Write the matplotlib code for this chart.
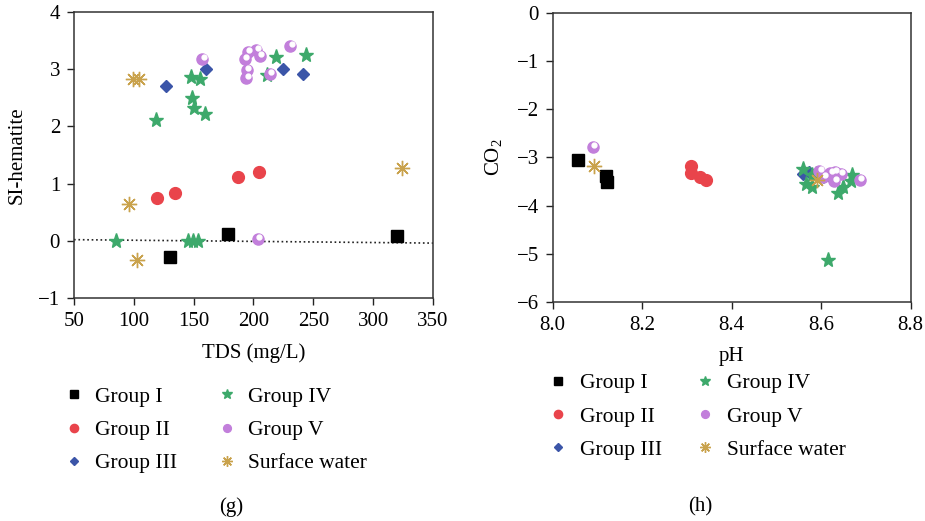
import numpy as np
import matplotlib
matplotlib.use("Agg")
import matplotlib.pyplot as plt
import matplotlib.transforms as mtransforms

plt.rcParams['font.family'] = ['Liberation Serif', 'DejaVu Serif']
plt.rcParams['mathtext.fontset'] = 'custom'
plt.rcParams['mathtext.rm'] = 'Liberation Serif'

# ---- panel (g): TDS vs SI-hematite
g1_tds = [130, 179, 320]
g1_si = [-0.29, 0.12, 0.08]
g2_tds = [119.5, 134.5, 187, 204.5]
g2_si = [0.75, 0.83, 1.12, 1.20]
g3_tds = [126.5, 160.4, 224.3, 241.3]
g3_si = [2.70, 3.00, 3.00, 2.91]
g4_tds = [118.6, 147.5, 155, 148.3, 150.6, 159.6, 219, 243.8, 211, 85, 145.5, 149.7, 153.5]
g4_si = [2.11, 2.86, 2.82, 2.49, 2.33, 2.21, 3.22, 3.25, 2.90, 0.0, -0.01, -0.01, -0.01]
g5_tds = [157.4, 195.2, 202.3, 193, 205.4, 230.8, 194.3, 194, 213.6, 203.4]
g5_si = [3.17, 3.30, 3.33, 3.17, 3.23, 3.40, 2.98, 2.85, 2.92, 0.03]
sw_tds = [99, 104, 96, 102.8, 324]
sw_si = [2.83, 2.82, 0.65, -0.34, 1.28]
ref_tds = [50, 350]
ref_si = [0.02, -0.04]

# ---- panel (h): pH vs CO2
h1_ph = [8.057, 8.119, 8.121]
h1_co2 = [-3.06, -3.38, -3.52]
h2_ph = [8.308, 8.308, 8.330, 8.342]
h2_co2 = [-3.17, -3.32, -3.40, -3.47]
h3_ph = [8.559, 8.573]
h3_co2 = [-3.35, -3.30]
h4_ph = [8.560, 8.565, 8.579, 8.588, 8.612, 8.649, 8.637, 8.668, 8.667, 8.579, 8.616]
h4_co2 = [-3.23, -3.56, -3.61, -3.35, -3.40, -3.61, -3.74, -3.37, -3.49, -3.37, -5.14]
h5_ph = [8.089, 8.596, 8.620, 8.631, 8.644, 8.629, 8.687, 8.605]
h5_co2 = [-2.79, -3.28, -3.33, -3.31, -3.35, -3.49, -3.47, -3.40]
hsw_ph = [8.092, 8.591]
hsw_co2 = [-3.17, -3.47]

labels = ['Group I', 'Group II', 'Group III', 'Group IV', 'Group V', 'Surface water']
colors = ['#000000', '#e9444b', '#3b55a8', '#3da96b', '#c27fdb', '#c9a24c']
asterisk = (8, 2, 0)

fig = plt.figure(figsize=(9.25, 5.21), dpi=100)
ax1 = fig.add_axes([0.080, 0.428, 0.388, 0.549])
ax2 = fig.add_axes([0.5975, 0.421, 0.387, 0.5535])


def draw(ax, xs, ys):
	ax.plot(xs[0], ys[0], 's', color=colors[0], ms=8, ls='none', label=labels[0])
	ax.plot(xs[1], ys[1], 'o', color=colors[1], ms=8.5, ls='none', label=labels[1])
	ax.plot(xs[2], ys[2], 'D', color=colors[2], ms=6.5, ls='none', label=labels[2])
	ax.plot(xs[3], ys[3], '*', color=colors[3], ms=11, ls='none', label=labels[3])
	ax.plot(xs[4], ys[4], 'o', mfc=colors[4], mec=colors[4], ms=8, ls='none', label=labels[4])
	# white highlight on the purple spheres
	off = mtransforms.offset_copy(ax.transData, fig=fig, x=1, y=1.5, units='points')
	ax.plot(xs[4], ys[4], 'o', color='white', ms=3.5, ls='none', transform=off)
	ax.plot(xs[5], ys[5], marker=asterisk, color=colors[5], mew=1.0, ms=11, ls='none', label=labels[5])


draw(ax1, [g1_tds, g2_tds, g3_tds, g4_tds, g5_tds, sw_tds],
	[g1_si, g2_si, g3_si, g4_si, g5_si, sw_si])
ax1.plot(ref_tds, ref_si, ':', color='#222222', lw=1.2, zorder=0)
ax1.set_xlim(50, 350)
ax1.set_ylim(-1, 4)
ax1.set_xticks([50, 100, 150, 200, 250, 300, 350])
ax1.set_yticks([-1, 0, 1, 2, 3, 4])
ax1.set_yticklabels(['\u22121', '0', '1', '2', '3', '4'])
ax1.set_xlabel('TDS (mg/L)', fontsize=15, labelpad=9)
ax1.set_ylabel('SI-hematite', fontsize=15, labelpad=8)

draw(ax2, [h1_ph, h2_ph, h3_ph, h4_ph, h5_ph, hsw_ph],
	[h1_co2, h2_co2, h3_co2, h4_co2, h5_co2, hsw_co2])
ax2.set_xlim(8.0, 8.8)
ax2.set_ylim(-6, 0)
ax2.set_xticks([8.0, 8.2, 8.4, 8.6, 8.8])
ax2.set_xticklabels(['8.0', '8.2', '8.4', '8.6', '8.8'])
ax2.set_yticks([-6, -5, -4, -3, -2, -1, 0])
ax2.set_yticklabels(['\u22126', '\u22125', '\u22124', '\u22123', '\u22122', '\u22121', '0'])
ax2.set_xlabel('pH', fontsize=15, labelpad=9)
ax2.set_ylabel('CO$_2$', fontsize=15, labelpad=8)

for ax in (ax1, ax2):
	ax.tick_params(direction='out', labelsize=15, length=5, width=1, color='#222222', pad=5)
	for s in ax.spines.values():
		s.set_linewidth(1.1)
		s.set_color('#333333')

leg_kw = dict(ncol=2, frameon=False, fontsize=15.5, handlelength=1.0, handletextpad=0.5,
	labelspacing=0.62, borderaxespad=0, borderpad=0, markerscale=0.7)
leg1 = ax1.legend(loc='upper left', bbox_to_anchor=(0.068, 0.258), bbox_transform=fig.transFigure,
	columnspacing=1.8, **leg_kw)
leg2 = ax2.legend(loc='upper left', bbox_to_anchor=(0.592, 0.284), bbox_transform=fig.transFigure,
	columnspacing=1.5, **leg_kw)

fig.text(0.25, 0.018, '(g)', ha='center', fontsize=15)
fig.text(0.757, 0.018, '(h)', ha='center', fontsize=15)

fig.savefig('out.png', dpi=100)
